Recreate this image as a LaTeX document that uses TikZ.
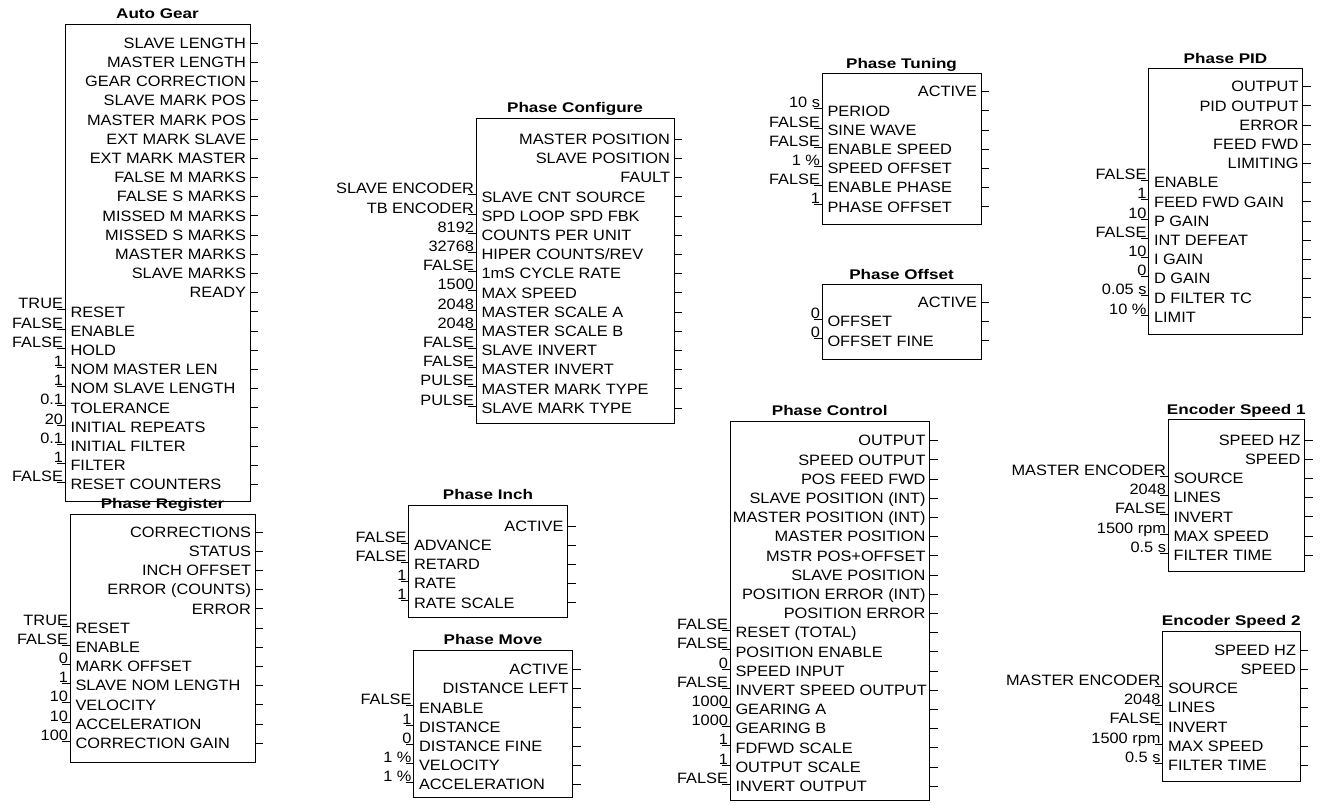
\documentclass[tikz,border=0pt]{standalone}
\usepackage{fontspec}
\setmainfont[FakeStretch=1.09]{Liberation Sans}
\newfontfamily\ttlfont[FakeStretch=1.22]{Liberation Sans}
% #1 name, #2 left, #3 top, #4 right, #5 bottom, #6 first row, #7 title, #8 outputs, #9 inputs
\newcommand{\fblock}[9]{%
  \node[fbox, minimum width={(#4-#2)*1pt}, minimum height={(#5-#3)*1pt}] (#1) at (#2,#3) {};
  \node[ttl] (#1-t) at ({(#2+#4)/2}, #3-5.5) {#7};
  \foreach \t [count=\i] in {#8} {
    \pgfmathsetmacro\y{#6+(\i-1)*19.2}
    \node[outl] (#1-o\i) at (#4-3.5, \y+5.2) {\t};
    \coordinate (#1-q\i) at (#4, \y);
    \draw (#1-q\i) -- ++(8,0);
    \xdef\fbn{\i}
  }
  \foreach \v/\t [count=\k] in {#9} {
    \pgfmathsetmacro\y{#6+(\fbn+\k-1)*19.2}
    \node[inl] (#1-i\k) at (#2+5, \y+5.2) {\t};
    \node[inv] (#1-v\k) at (#2-1.5, \y-3) {\v};
    \coordinate (#1-p\k) at (#2, \y-2);
    \draw (#1-p\k) -- ++(-8,0);
    \coordinate (#1-r\k) at (#4, \y);
    \draw (#1-r\k) -- ++(8,0);
  }
}
\begin{document}
\begin{tikzpicture}[x=1pt, y=-1pt, line width=1pt,
    font=\fontsize{15}{17}\selectfont,
    fbox/.style={draw, anchor=north west, inner sep=0, outer sep=0},
    ttl/.style={font=\fontsize{14}{16}\ttlfont\bfseries, anchor=base, inner sep=0},
    outl/.style={anchor=base east, inner sep=0},
    inl/.style={anchor=base west, inner sep=0},
    inv/.style={anchor=base east, inner sep=0}]
    \useasboundingbox (0,0) rectangle (1322,804);
    \fblock{ag}{65}{24}{250}{501}{43}{Auto Gear}
      {SLAVE LENGTH, MASTER LENGTH, GEAR CORRECTION, SLAVE MARK POS, MASTER MARK POS,
       EXT MARK SLAVE, EXT MARK MASTER, FALSE M MARKS, FALSE S MARKS, MISSED M MARKS,
       MISSED S MARKS, MASTER MARKS, SLAVE MARKS, READY}
      {TRUE/RESET, FALSE/ENABLE, FALSE/HOLD, 1/NOM MASTER LEN, 1/NOM SLAVE LENGTH,
       0.1/TOLERANCE, 20/INITIAL REPEATS, 0.1/INITIAL FILTER, 1/FILTER, FALSE/RESET COUNTERS}
    \fblock{pr}{70}{514}{255}{762}{532}{Phase Register}
      {CORRECTIONS, STATUS, INCH OFFSET, ERROR (COUNTS), ERROR}
      {TRUE/RESET, FALSE/ENABLE, 0/MARK OFFSET, 1/SLAVE NOM LENGTH, 10/VELOCITY,
       10/ACCELERATION, 100/CORRECTION GAIN}
    \fblock{pc}{476}{118}{674}{423}{139.3}{Phase Configure}
      {MASTER POSITION, SLAVE POSITION, FAULT}
      {SLAVE ENCODER/SLAVE CNT SOURCE, TB ENCODER/SPD LOOP SPD FBK, 8192/COUNTS PER UNIT,
       32768/{HIPER COUNTS/REV}, FALSE/1mS CYCLE RATE, 1500/MAX SPEED, 2048/MASTER SCALE A,
       2048/MASTER SCALE B, FALSE/SLAVE INVERT, FALSE/MASTER INVERT, PULSE/MASTER MARK TYPE,
       PULSE/SLAVE MARK TYPE}
    \fblock{pt}{822}{73.5}{981}{224.5}{91.7}{Phase Tuning}
      {ACTIVE}
      {10 s/PERIOD, FALSE/SINE WAVE, FALSE/ENABLE SPEED, 1 \%/SPEED OFFSET,
       FALSE/ENABLE PHASE, 1/PHASE OFFSET}
    \fblock{po}{822}{284.5}{981}{359}{302.5}{Phase Offset}
      {ACTIVE}
      {0/OFFSET, 0/OFFSET FINE}
    \fblock{pid}{1148.5}{68.5}{1302.5}{334}{86.7}{Phase PID}
      {OUTPUT, PID OUTPUT, ERROR, FEED FWD, LIMITING}
      {FALSE/ENABLE, 1/FEED FWD GAIN, 10/P GAIN, FALSE/INT DEFEAT, 10/I GAIN, 0/D GAIN,
       0.05 s/D FILTER TC, 10 \%/LIMIT}
    \fblock{pi}{408.5}{505}{567.5}{617}{526}{Phase Inch}
      {ACTIVE}
      {FALSE/ADVANCE, FALSE/RETARD, 1/RATE, 1/RATE SCALE}
    \fblock{pm}{413.5}{650}{572.5}{797}{669.5}{Phase Move}
      {ACTIVE, DISTANCE LEFT}
      {FALSE/ENABLE, 1/DISTANCE, 0/DISTANCE FINE, 1 \%/VELOCITY, 1 \%/ACCELERATION}
    \fblock{pctl}{730}{421}{929.5}{800.5}{440.7}{Phase Control}
      {OUTPUT, SPEED OUTPUT, POS FEED FWD, SLAVE POSITION (INT), MASTER POSITION (INT),
       MASTER POSITION, MSTR POS+OFFSET, SLAVE POSITION, POSITION ERROR (INT), POSITION ERROR}
      {FALSE/RESET (TOTAL), FALSE/POSITION ENABLE, 0/SPEED INPUT, FALSE/INVERT SPEED OUTPUT,
       1000/GEARING A, 1000/GEARING B, 1/FDFWD SCALE, 1/OUTPUT SCALE, FALSE/INVERT OUTPUT}
    \fblock{esa}{1168}{419.5}{1304.5}{571}{440}{Encoder Speed 1}
      {SPEED HZ, SPEED}
      {MASTER ENCODER/SOURCE, 2048/LINES, FALSE/INVERT, 1500 rpm/MAX SPEED, 0.5 s/FILTER TIME}
    \fblock{esb}{1162.5}{631}{1300}{781}{650}{Encoder Speed 2}
      {SPEED HZ, SPEED}
      {MASTER ENCODER/SOURCE, 2048/LINES, FALSE/INVERT, 1500 rpm/MAX SPEED, 0.5 s/FILTER TIME}
\end{tikzpicture}
\end{document}
